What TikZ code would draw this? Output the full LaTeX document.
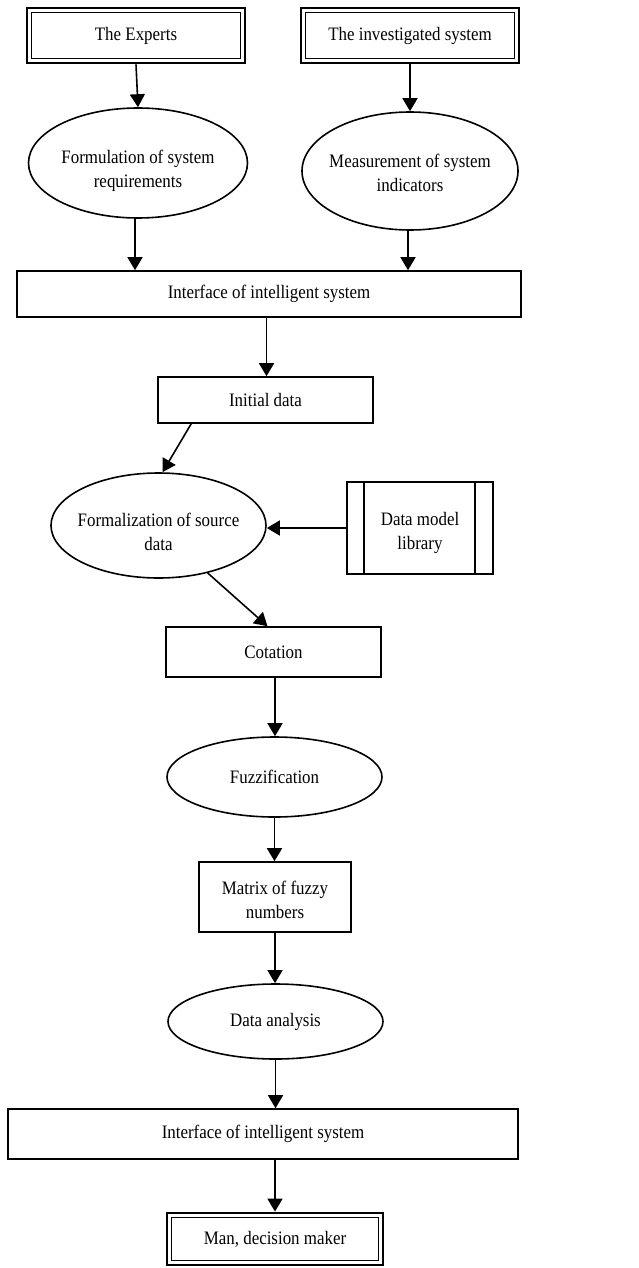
\documentclass[tikz,border=0pt]{standalone}
\usepackage{fontspec}
\setmainfont{Liberation Serif}[FakeStretch=0.89]
\usetikzlibrary{arrows.meta,shapes.geometric}
\begin{document}
\begin{tikzpicture}[x=1pt,y=-1pt,
  every node/.style={font=\fontsize{19}{24}\selectfont, inner sep=0pt, align=center},
  box/.style={draw, line width=1.6pt, rectangle},
  oval/.style={draw, line width=1.6pt, ellipse},
  outerbox/.style={draw, line width=2.8pt, rectangle},
  innerline/.style={line width=1.1pt},
  txt/.style={draw=none},
  arr/.style={line width=1.6pt, -{Triangle[length=13pt,width=15pt]}}
]
\useasboundingbox (0,0) rectangle (639,1268);

% top boxes
\node[outerbox, minimum width=218pt, minimum height=55pt] (experts) at (136,35.5) {The Experts};
\draw[innerline] ([shift={(5.5pt,-5.5pt)}]experts.north west) rectangle ([shift={(-5.5pt,5.5pt)}]experts.south east);
\node[outerbox, minimum width=218pt, minimum height=55pt] (invest) at (410,35.5) {The investigated system};
\draw[innerline] ([shift={(5.5pt,-5.5pt)}]invest.north west) rectangle ([shift={(-5.5pt,5.5pt)}]invest.south east);

% ellipses
\node[oval, minimum width=219pt, minimum height=110pt] (req) at (138,163) {};
\node[txt] (reqT) at (138,171) {Formulation of system\\requirements};
\node[oval, minimum width=216pt, minimum height=118pt] (meas) at (410,171) {};
\node[txt] (measT) at (410,173) {Measurement of system\\indicators};

% interface 1
\node[box, minimum width=504pt, minimum height=46pt] (iface1) at (269,294) {Interface of intelligent system};

% initial data
\node[box, minimum width=215pt, minimum height=46pt] (init) at (265.5,400) {Initial data};

% formalization
\node[oval, minimum width=215pt, minimum height=105pt] (formal) at (158.5,525.5) {};
\node[txt] (formalT) at (158.5,532) {Formalization of source\\data};

% data model library
\node[box, minimum width=146pt, minimum height=92pt] (lib) at (420,528) {};
\node[txt] (libT) at (420,533) {Data model\\library};
\draw[line width=1.6pt] ([xshift=18pt]lib.north west) -- ([xshift=18pt]lib.south west);
\draw[line width=1.6pt] ([xshift=-19pt]lib.north east) -- ([xshift=-19pt]lib.south east);

% cotation
\node[box, minimum width=215pt, minimum height=50pt] (cot) at (273.5,652) {Cotation};

% fuzzification
\node[oval, minimum width=215pt, minimum height=80pt] (fuzz) at (274.5,777) {Fuzzification};

% matrix
\node[box, minimum width=152pt, minimum height=70pt] (matrix) at (275,897) {};
\node[txt] (matrixT) at (275,900) {Matrix of fuzzy\\numbers};

% data analysis
\node[oval, minimum width=215pt, minimum height=75pt] (anal) at (275.5,1021.5) {Data analysis};

% interface 2
\node[box, minimum width=510pt, minimum height=50pt] (iface2) at (263,1134) {Interface of intelligent system};

% man
\node[outerbox, minimum width=216pt, minimum height=52pt] (man) at (275,1239) {Man, decision maker};
\draw[innerline] ([shift={(5.5pt,-5.5pt)}]man.north west) rectangle ([shift={(-5.5pt,5.5pt)}]man.south east);

% connectors
\draw[arr] (experts.south) -- (req.north);
\draw[arr] (invest.south) -- (meas.north);
\draw[arr] ([xshift=-3pt]req.south) -- ([xshift=-3pt]req.south |- iface1.north);
\draw[arr] ([xshift=-2pt]meas.south) -- ([xshift=-2pt]meas.south |- iface1.north);
\draw[arr] ([xshift=1pt]init.north |- iface1.south) -- ([xshift=1pt]init.north);
\draw[arr] ([xshift=34pt]init.south west) -- ([xshift=4pt]formal.north);
\draw[arr] (lib.west) -- (lib.west -| formal.east);
\draw[arr] (formal.-44) -- ([xshift=-6pt]cot.north);
\draw[arr] ([xshift=1.5pt]cot.south) -- ([xshift=1.5pt]cot.south |- fuzz.north);
\draw[arr] (fuzz.south) -- (fuzz.south |- matrix.north);
\draw[arr] (matrix.south) -- (matrix.south |- anal.north);
\draw[arr] (anal.south) -- (anal.south |- iface2.north);
\draw[arr] (man.north |- iface2.south) -- (man.north);
\end{tikzpicture}
\end{document}
